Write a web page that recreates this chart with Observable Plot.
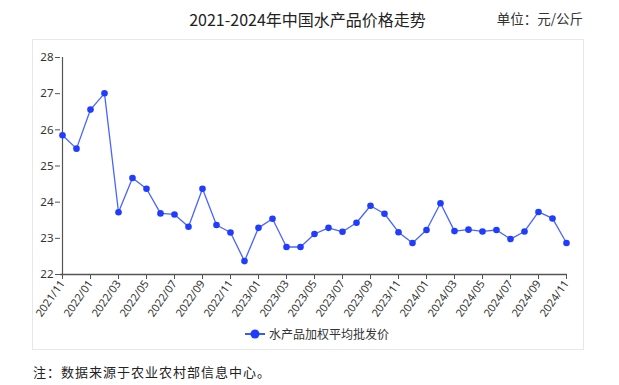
<!DOCTYPE html>
<html><head><meta charset="utf-8">
<script src="https://cdn.jsdelivr.net/npm/d3@7"></script>
<script src="https://cdn.jsdelivr.net/npm/@observablehq/plot@0.6"></script>
<style>
body{margin:0;background:#fff;font-family:"Noto Sans CJK SC","Noto Sans",sans-serif;}
#wrap{position:relative;width:619px;height:385px;overflow:hidden;}
#box{position:absolute;left:32px;top:39px;width:550px;height:309px;border:1px solid #e8e8e8;}
#title{position:absolute;left:0;width:615px;top:7px;text-align:center;font-size:16px;color:#222;}
#unit{position:absolute;right:36px;top:8px;font-size:13.5px;color:#333;}
#legend{position:absolute;left:245px;top:325px;font-size:12px;color:#333;display:flex;align-items:center;}
#note{position:absolute;left:33px;top:362px;font-size:13px;color:#222;letter-spacing:1px;}
#chart{position:absolute;left:0;top:0;}
</style></head>
<body><div id="wrap">
<div id="box"></div>
<div id="title">2021-2024年中国水产品价格走势</div>
<div id="unit">单位：元/公斤</div>
<div id="chart"></div>
<div id="legend"><svg width="20" height="12"><line x1="0" y1="6" x2="20" y2="6" stroke="#3d5afe" stroke-width="2"/><circle cx="10" cy="6" r="4.5" fill="#1f3cff"/></svg><span style="margin-left:4px">水产品加权平均批发价</span></div>
<div id="note">注：数据来源于农业农村部信息中心。</div>
</div>
<script>
const months = ["2021/11","2021/12","2022/01","2022/02","2022/03","2022/04","2022/05","2022/06","2022/07","2022/08","2022/09","2022/10","2022/11","2022/12","2023/01","2023/02","2023/03","2023/04","2023/05","2023/06","2023/07","2023/08","2023/09","2023/10","2023/11","2023/12","2024/01","2024/02","2024/03","2024/04","2024/05","2024/06","2024/07","2024/08","2024/09","2024/10","2024/11"];
const prices = [25.85,25.48,26.56,27.01,23.72,24.67,24.37,23.69,23.66,23.32,24.37,23.37,23.16,22.37,23.29,23.54,22.76,22.76,23.12,23.29,23.18,23.43,23.90,23.68,23.17,22.87,23.23,23.97,23.20,23.24,23.19,23.23,22.98,23.19,23.73,23.55,22.87];
const tickLabels = months.filter((d,i)=>i%2===0);
const yTicks = [22,23,24,25,26,27,28];
const data = months.map((m,i)=>({m, v:prices[i]}));

const chart = Plot.plot({
  width:619, height:385,
  marginLeft:60, marginRight:52, marginTop:57, marginBottom:111,
  style:{fontFamily:"'Noto Sans','Noto Sans CJK SC',sans-serif", fontSize:"11px", color:"#333", background:"transparent"},
  x:{type:"point", domain:months, padding:0},
  y:{domain:[22,28]},
  marks:[
    Plot.axisY({ticks:yTicks, tickFormat:d=>String(d), tickSize:5, tickPadding:2, label:null, stroke:"#555", fontSize:11.5}),
    Plot.axisX({ticks:tickLabels, tickSize:5, tickPadding:2, tickRotate:-55, label:null, stroke:"#555", fontSize:11}),
    Plot.ruleX([months[0]], {y1:22, y2:28, stroke:"#555", strokeWidth:1.2}),
    Plot.ruleY([22], {stroke:"#555", strokeWidth:1.5}),
    Plot.line(data, {x:"m", y:"v", stroke:"#4a64ff", strokeWidth:1.3}),
    Plot.dot(data, {x:"m", y:"v", r:3.3, fill:"#1f3cff", stroke:"none"})
  ]
});
document.getElementById("chart").appendChild(chart);
</script>
</body></html>
